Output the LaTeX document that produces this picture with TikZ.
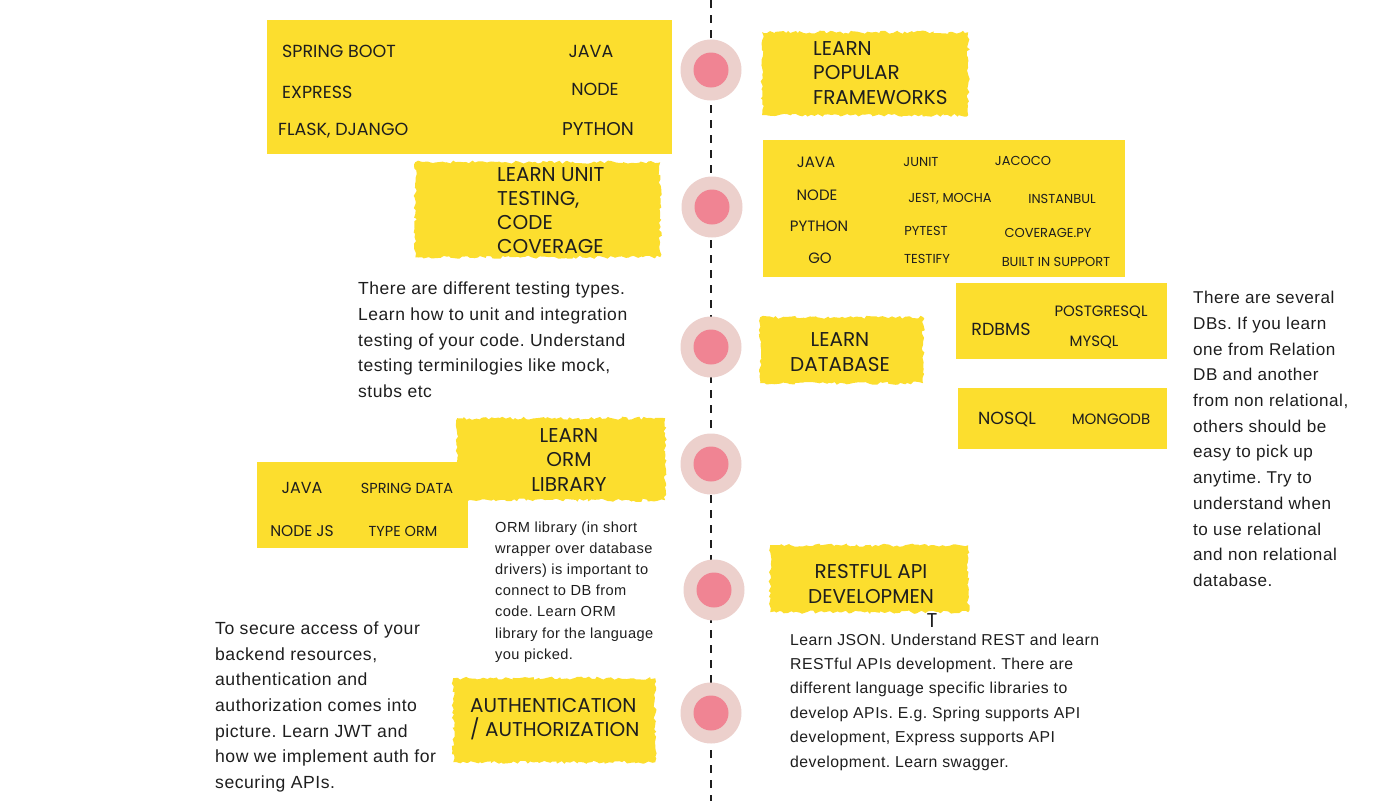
\documentclass[tikz,border=0pt]{standalone}
\usepackage{fontspec}
\setmainfont{Liberation Sans}[LetterSpace=3]
\newfontfamily\headfont{Poppins}
\usetikzlibrary{positioning,calc,decorations.pathmorphing}
\definecolor{brushyellow}{HTML}{FCDE2E}
\definecolor{ringpink}{HTML}{ECD0CC}
\definecolor{dotpink}{HTML}{F08493}
\definecolor{inkblack}{HTML}{1E1E1E}
\frenchspacing

\begin{document}
\begin{tikzpicture}[
    x=1pt, y=-1pt,
    every node/.style={text=inkblack, inner sep=0pt},
    tablebox/.style={rectangle, fill=brushyellow, anchor=north west},
    brush/.style={rectangle, fill=brushyellow, anchor=north west, decorate, decoration={random steps, segment length=3pt, amplitude=1.6pt}},
    head/.style={font=\headfont\fontsize{20}{24.5}\selectfont},
    cell/.style={font=\headfont\fontsize{17.5}{20}\selectfont},
    smallcell/.style={font=\headfont\fontsize{13}{16}\selectfont},
    note/.style={font=\fontsize{17.5}{25.7}\selectfont, align=left, anchor=west},
    ring/.style={circle, fill=ringpink, minimum size=61pt},
    dot/.style={circle, fill=dotpink, minimum size=35pt},
    timeline/.style={line width=2pt, dash pattern=on 8pt off 7pt, inkblack},
]
\pgfmathsetseed{11}
\useasboundingbox (0,0) rectangle (1400,801);

% timeline
\coordinate (top) at (711,0);
\coordinate (bottom) at (711,801);
\draw[timeline] (top) -- (bottom);
\foreach \x/\y [count=\i] in {711/70, 712/207, 711/347, 711/464, 714/590, 711/713} {
  \node[ring] (ring\i) at (\x,\y) {};
  \node[dot] (dot\i) at (ring\i) {};
}

% frameworks
\node[tablebox, minimum width=405pt, minimum height=134pt] (fwbox) at (267,20) {};
\node[cell, anchor=west] (springboot) at (282,51) {SPRING BOOT};
\node[cell, anchor=west] (express) at (282,92) {EXPRESS};
\node[cell, anchor=west] (flask) at (278,131) {FLASK, DJANGO};
\node[cell] (fwjava) at (591,51) {JAVA};
\node[cell] (fwnode) at (595,89) {NODE};
\node[cell, font=\headfont\fontsize{18.5}{20}\selectfont] (fwpython) at (598,129) {PYTHON};
\node[brush, minimum width=206pt, minimum height=83pt] (fwbrush) at (762,32) {};
\node[head, align=left, anchor=west] (fwhead) at (813,73) {LEARN\\POPULAR\\FRAMEWORKS};

% unit testing
\node[brush, minimum width=245pt, minimum height=95pt] (testbrush) at (415,162) {};
\node[head, align=left, anchor=west, font=\headfont\fontsize{20}{24}\selectfont] (testhead) at (497,211) {LEARN UNIT\\TESTING,\\CODE\\COVERAGE};
\node[tablebox, minimum width=362pt, minimum height=137pt] (testbox) at (763,140) {};
\node[cell, font=\headfont\fontsize{15}{18}\selectfont] (tjava) at (816,162) {JAVA};
\node[cell, font=\headfont\fontsize{15}{18}\selectfont] (tnode) at (817,195) {NODE};
\node[cell, font=\headfont\fontsize{15}{18}\selectfont] (tpython) at (819,226) {PYTHON};
\node[cell, font=\headfont\fontsize{15}{18}\selectfont] (tgo) at (820,258) {GO};
\node[smallcell] (junit) at (921,162) {JUNIT};
\node[smallcell] (jest) at (950,199) {JEST, MOCHA};
\node[smallcell] (pytest) at (926,231) {PYTEST};
\node[smallcell] (testify) at (927,259) {TESTIFY};
\node[smallcell] (jacoco) at (1023,161) {JACOCO};
\node[smallcell] (istanbul) at (1062,199) {INSTANBUL};
\node[smallcell] (coveragepy) at (1048,233) {COVERAGE.PY};
\node[smallcell] (builtin) at (1056,262) {BUILT IN SUPPORT};
\node[note] (testnote) at (358,340) {There are different testing types.\\Learn how to unit and integration\\testing of your code. Understand\\testing terminilogies like mock,\\stubs etc};

% database
\node[brush, minimum width=163pt, minimum height=66pt] (dbbrush) at (760,317) {};
\node[head, align=center] (dbhead) at (840,352) {LEARN\\DATABASE};
\node[tablebox, minimum width=211pt, minimum height=76pt] (sqlbox) at (956,283) {};
\node[cell, font=\headfont\fontsize{17.5}{20}\selectfont] (rdbms) at (1001,329) {RDBMS};
\node[cell, font=\headfont\fontsize{15}{18}\selectfont] (postgres) at (1101,312) {POSTGRESQL};
\node[cell, font=\headfont\fontsize{15}{18}\selectfont] (mysql) at (1094,342) {MYSQL};
\node[tablebox, minimum width=209pt, minimum height=61pt] (nosqlbox) at (958,388) {};
\node[cell, font=\headfont\fontsize{17.5}{20}\selectfont] (nosql) at (1007,419) {NOSQL};
\node[cell, font=\headfont\fontsize{15}{18}\selectfont] (mongo) at (1111,419) {MONGODB};
\node[note, font=\fontsize{17.1}{25.7}\selectfont] (dbnote) at (1193,439) {There are several\\DBs. If you learn\\one from Relation\\DB and another\\from non relational,\\others should be\\easy to pick up\\anytime. Try to\\understand when\\to use relational\\and non relational\\database.};

% orm
\node[brush, minimum width=208pt, minimum height=82pt] (ormbrush) at (457,418) {};
\node[head, align=center] (ormhead) at (569,460) {LEARN\\ORM\\LIBRARY};
\node[tablebox, minimum width=211pt, minimum height=86pt] (ormbox) at (257,462) {};
\node[cell, font=\headfont\fontsize{16}{18}\selectfont] (ojava) at (302,488) {JAVA};
\node[cell, font=\headfont\fontsize{14.5}{18}\selectfont] (springdata) at (407,488) {SPRING DATA};
\node[cell, font=\headfont\fontsize{15.5}{18}\selectfont] (nodejs) at (302,531) {NODE JS};
\node[cell, font=\headfont\fontsize{14.5}{18}\selectfont] (typeorm) at (403,531) {TYPE ORM};
\node[note, font=\fontsize{14.6}{21.2}\selectfont] (ormnote) at (495,592) {ORM library (in short\\wrapper over database\\drivers) is important to\\connect to DB from\\code. Learn ORM\\library for the language\\you picked.};

% restful api
\node[brush, minimum width=198pt, minimum height=67pt] (restbrush) at (770,545) {};
\node[head, align=center] (resthead) at (871,584) {RESTFUL API\\DEVELOPMEN};
\node[head] (restT) at (932,621) {T};
\node[note, font=\fontsize{15.8}{24.4}\selectfont] (restnote) at (790,702) {Learn JSON. Understand REST and learn\\RESTful APIs development. There are\\different language specific libraries to\\develop APIs. E.g. Spring supports API\\development, Express supports API\\development. Learn swagger.};

% auth
\node[brush, minimum width=202pt, minimum height=84pt] (authbrush) at (453,678) {};
\node[head, align=left, anchor=west] (authhead) at (470,719) {AUTHENTICATION\\/ AUTHORIZATION};
\node[note, font=\fontsize{17.6}{25.7}\selectfont] (authnote) at (215,707) {To secure access of your\\backend resources,\\authentication and\\authorization comes into\\picture. Learn JWT and\\how we implement auth for\\securing APIs.};
\end{tikzpicture}
\end{document}
